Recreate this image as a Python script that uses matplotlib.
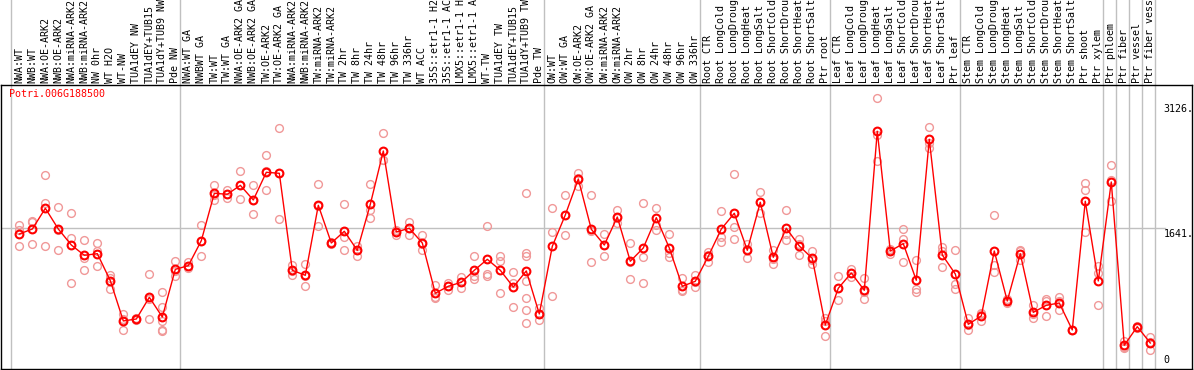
import matplotlib.pyplot as plt
import numpy as np

gene = "Potri.006G188500"

labels = [
    "NWA:WT", "NWB:WT", "NWA:OE-ARK2", "NWB:OE-ARK2", "NWA:miRNA-ARK2",
    "NWB:miRNA-ARK2", "NW 0hr", "WT H2O", "WT-NW", "TUA1dEY NW",
    "TUA1dEY+TUB15", "TUA1dY+TUB9 NW", "Pde NW",
    "NWA:WT GA", "NWBWT GA", "TW:WT", "TW:WT GA", "NWA:OE-ARK2 GA",
    "NWB:OE-ARK2 GA", "TW:OE-ARK2", "TW:OE-ARK2 GA", "NWA:miRNA-ARK2",
    "NWB:miRNA-ARK2", "TW:miRNA-ARK2", "TW:miRNA-ARK2", "TW 2hr", "TW 8hr",
    "TW 24hr", "TW 48hr", "TW 96hr", "TW 336hr", "WT ACC", "35S::etr1-1 H2",
    "35S::etr1-1 AC", "LMX5::etr1-1 H", "LMX5::etr1-1 A", "WT-TW",
    "TUA1dEY TW", "TUA1dEY+TUB15", "TUA1dY+TUB9 TW", "Pde TW",
    "OW:WT", "OW:WT GA", "OW:OE-ARK2", "OW:OE-ARK2 GA", "OW:miRNA-ARK2",
    "OW:miRNA-ARK2", "OW 2hr", "OW 8hr", "OW 24hr", "OW 48hr", "OW 96hr",
    "OW 336hr",
    "Root CTR", "Root LongCold", "Root LongDroug", "Root LongHeat",
    "Root LongSalt", "Root ShortCold", "Root ShortDrou", "Root ShortHeat",
    "Root ShortSalt", "Ptr root",
    "Leaf CTR", "Leaf LongCold", "Leaf LongDroug", "Leaf LongHeat",
    "Leaf LongSalt", "Leaf ShortCold", "Leaf ShortDrou", "Leaf ShortHeat",
    "Leaf ShortSalt", "Ptr leaf",
    "Stem CTR", "Stem LongCold", "Stem LongDroug", "Stem LongHeat",
    "Stem LongSalt", "Stem ShortCold", "Stem ShortDrou", "Stem ShortHeat",
    "Stem ShortSalt", "Ptr shoot", "Ptr xylem", "Ptr phloem", "Ptr fiber",
    "Ptr vessel", "Ptr fiber vess",
]

means = [
    1574, 1633, 1879, 1633, 1443, 1321, 1340, 1019, 541, 564, 822, 588, 1154,
    1198, 1495, 2057, 2046, 2152, 1978, 2307, 2295, 1143, 1083, 1915, 1467,
    1606, 1380, 1927, 2560, 1598, 1642, 1467, 870, 953, 1000, 1143, 1273,
    1143, 944, 1135, 624,
    1428, 1800, 2227, 1630, 1443, 1776, 1250, 1408, 1768, 1408, 953, 1012,
    1309, 1633, 1820, 1380, 1951, 1297, 1642, 1432, 1285, 493,
    929, 1111, 905, 2794, 1372, 1459, 1024, 2699, 1325, 1099,
    501, 600, 1372, 778, 1340, 643, 727, 754, 434, 1963, 1016, 2192, 252,
    473, 279,
]

replicates = [
    [1685, 1625, 1428], [1732, 1713, 1455], [2271, 1942, 1428],
    [1895, 1624, 1380], [1820, 1527, 992], [1499, 1289, 1143],
    [1467, 1368, 1190], [1083, 1057, 917], [620, 566, 437], [570, 564, 558],
    [1099, 803, 564], [885, 707, 537, 437, 425], [1253, 1138, 1071],
    [1238, 1198, 1170], [1681, 1495, 1309], [2156, 2040, 1975],
    [2093, 2046, 2002], [2319, 2152, 1986], [2152, 1975, 1808],
    [2509, 2319, 2093], [2830, 2303, 1752], [1209, 1129, 1091],
    [1218, 1078, 953], [2164, 1912, 1669], [1480, 1467, 1454],
    [1927, 1535, 1380], [1428, 1380, 1316], [2164, 1863, 1761],
    [2774, 2457, 2449], [1625, 1603, 1566], [1713, 1647, 1566],
    [1562, 1451, 1388], [965, 831, 814], [992, 955, 912], [1063, 1004, 933],
    [1313, 1071, 1043], [1669, 1099, 1071], [1316, 1250, 873],
    [1123, 992, 707], [2057, 1348, 1309, 1012, 814, 668, 513],
    [695, 628, 549],
    [1883, 1598, 834], [2037, 1801, 1562], [2299, 2234, 2148],
    [2037, 1612, 1241], [1574, 1446, 1309], [1859, 1764, 1705],
    [1467, 1243, 1040], [1939, 1301, 992], [1883, 1685, 1618],
    [1578, 1348, 1297], [1051, 912, 893], [1091, 1004, 941],
    [1360, 1326, 1241], [1844, 1538, 1479], [2283, 1654, 1511],
    [1459, 1396, 1285], [2073, 1953, 1827], [1388, 1281, 1222],
    [1859, 1568, 1499], [1515, 1460, 1321], [1372, 1269, 1214],
    [576, 544, 359],
    [1071, 930, 786], [1158, 1115, 1060], [1051, 881, 802],
    [3190, 2754, 2438], [1399, 1377, 1340], [1633, 1515, 1241],
    [1262, 921, 885], [2842, 2659, 2596], [1420, 1373, 1182],
    [1380, 984, 924],
    [576, 497, 430], [636, 627, 537], [1796, 1209, 1126], [806, 774, 754],
    [1388, 1370, 1262], [731, 618, 580], [802, 783, 596], [822, 772, 668],
    [438, 434, 430], [2180, 2100, 1594], [1190, 1111, 734],
    [2390, 2219, 1970], [299, 237, 220], [485, 473, 461], [347, 290, 200],
]

# first sample index of each block (plus the single ptr tissues at the end)
group_starts = [0, 13, 41, 53, 63, 73, 84, 85, 86, 87, 88]
ytick_vals = [0, 1641, 3126]
ytick_text = ["0", "1641.", "3126."]

W, H = 1194, 370
fig = plt.figure(figsize=(W / 100, H / 100), dpi=100)
ax = fig.add_axes([1 / W, 1 / H, 1191 / W, 284 / H])

x = np.arange(len(labels))
ax.set_xlim(-1.41, 90.21)
ax.set_ylim(-30, 3344)
ax.set_xticks([])
ax.set_yticks([])
for s in ax.spines.values():
    s.set_color("black")
    s.set_linewidth(1.0)

grey = "#c0c0c0"
for g in group_starts:
    ax.axvline(g - 0.62, ymin=0, ymax=1.31, color=grey, lw=1.0,
               clip_on=False, zorder=1)
ax.axhline(ytick_vals[1], xmin=0, xmax=0.977, color=grey, lw=1.0, zorder=1)

mono = "DejaVu Sans Mono"
for i, lab in enumerate(labels):
    ax.text(i, 1.006, lab, transform=ax.get_xaxis_transform(), rotation=90,
            ha="center", va="bottom", fontsize=7.2, family=mono,
            color="black", clip_on=False)

for i, reps in enumerate(replicates):
    ax.plot([i] * len(reps), reps, "o", ms=5.6, mfc="none", mec="#f09898",
            mew=1.0, zorder=2)

ax.plot(x, means, "-", color="#ff0000", lw=1.0, zorder=3)
ax.plot(x, means, "o", ms=5.6, mfc="none", mec="#ff0000", mew=1.5, zorder=4)

ax.text(8 / 1191, 0.985, gene, transform=ax.transAxes, ha="left", va="top",
        fontsize=7.2, family=mono, color="#ff0000")

for v, t in zip(ytick_vals, ytick_text):
    ax.text(0.976, v + (20 if v == 0 else -10), t,
            transform=ax.get_yaxis_transform(), ha="left",
            va="bottom" if v == 0 else "top", fontsize=7.2, family=mono,
            color="black")

fig.savefig("out.png", dpi=100)
